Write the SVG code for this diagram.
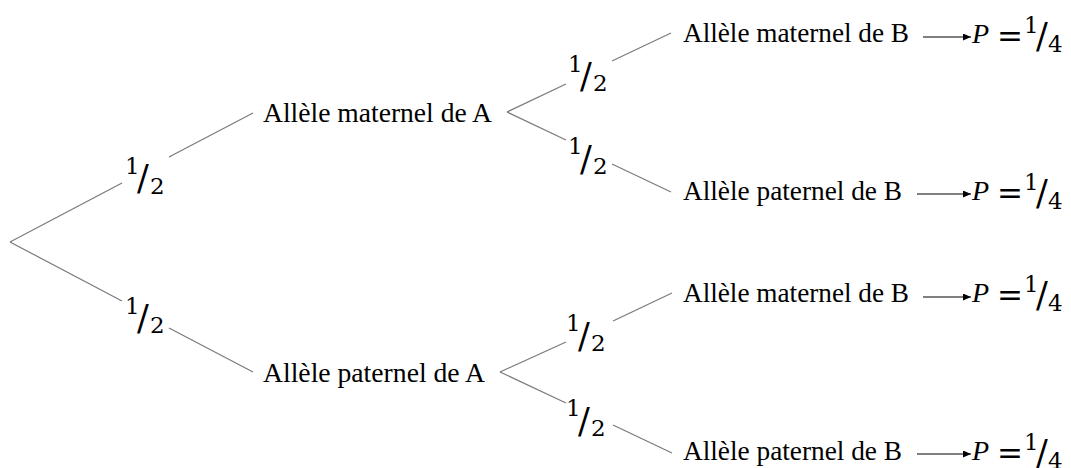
<svg xmlns="http://www.w3.org/2000/svg" width="1071" height="468" viewBox="0 0 1071 468">
<style>
  .lbl { font-family: "Liberation Serif", "Times New Roman", serif; font-size: 28px; fill: #000; }
  .num { font-family: "DejaVu Serif", "Liberation Serif", serif; font-size: 23px; fill: #000; }
  .sl { font-size: 35px; }
  .it { font-family: "Liberation Serif", "Times New Roman", serif; font-style: italic; font-size: 28px; }
  .eq { font-size: 31px; }
  .edge { stroke: #7a7a7a; stroke-width: 1.2; fill: none; }
  .arr { stroke: #000; stroke-width: 1; fill: none; marker-end: url(#ah); }
</style>
<defs>
  <marker id="ah" markerUnits="userSpaceOnUse" markerWidth="9" markerHeight="8" refX="8" refY="3.5" orient="auto">
    <path d="M0,0 L8,3.5 L0,7 z" fill="#000"/>
  </marker>
</defs>
<rect width="1071" height="468" fill="#fff"/>

<g id="connectors">
  <polyline class="edge" points="10,242 122,183"/>
  <polyline class="edge" points="169,157 253,113"/>
  <polyline class="edge" points="10,242 122,301"/>
  <polyline class="edge" points="169,328 253,372"/>

  <polyline class="edge" points="507,112 566,84"/>
  <polyline class="edge" points="612,61 671,33"/>
  <polyline class="edge" points="507,112 566,140"/>
  <polyline class="edge" points="612,164 671,192"/>

  <polyline class="edge" points="500,372 566,342"/>
  <polyline class="edge" points="613,321 672,293"/>
  <polyline class="edge" points="500,372 566,403"/>
  <polyline class="edge" points="613,425 672,453"/>

  <line class="arr" x1="923" y1="37" x2="971" y2="37"/>
  <line class="arr" x1="917" y1="194" x2="971" y2="194"/>
  <line class="arr" x1="923" y1="297" x2="971" y2="297"/>
  <line class="arr" x1="917" y1="454" x2="971" y2="454"/>

  <g id="edge-labels">
    <text class="num"><tspan x="125" y="174">1</tspan><tspan class="sl" x="137" y="190">/</tspan><tspan x="150" y="194">2</tspan></text>
    <text class="num"><tspan x="125" y="314">1</tspan><tspan class="sl" x="137" y="330">/</tspan><tspan x="150" y="333">2</tspan></text>
    <text class="num"><tspan x="568" y="72">1</tspan><tspan class="sl" x="580" y="88">/</tspan><tspan x="593" y="91">2</tspan></text>
    <text class="num"><tspan x="568" y="154">1</tspan><tspan class="sl" x="580" y="171">/</tspan><tspan x="593" y="174">2</tspan></text>
    <text class="num"><tspan x="566" y="331">1</tspan><tspan class="sl" x="578" y="348">/</tspan><tspan x="591" y="351">2</tspan></text>
    <text class="num"><tspan x="566" y="416">1</tspan><tspan class="sl" x="578" y="433">/</tspan><tspan x="591" y="436">2</tspan></text>
  </g>
</g>

<g id="node-a-mat"><text class="lbl" x="263" y="122" textLength="229" lengthAdjust="spacingAndGlyphs">Allèle maternel de A</text></g>
<g id="node-a-pat"><text class="lbl" x="263" y="382" textLength="222" lengthAdjust="spacingAndGlyphs">Allèle paternel de A</text></g>

<g id="node-b1"><text class="lbl" x="683" y="42" textLength="226" lengthAdjust="spacingAndGlyphs">Allèle maternel de B</text></g>
<g id="node-b2"><text class="lbl" x="683" y="200" textLength="219" lengthAdjust="spacingAndGlyphs">Allèle paternel de B</text></g>
<g id="node-b3"><text class="lbl" x="683" y="302" textLength="226" lengthAdjust="spacingAndGlyphs">Allèle maternel de B</text></g>
<g id="node-b4"><text class="lbl" x="683" y="460" textLength="219" lengthAdjust="spacingAndGlyphs">Allèle paternel de B</text></g>

<g id="result-1"><text class="num"><tspan class="it" x="972" y="43">P</tspan><tspan class="eq" x="997" y="47">=</tspan><tspan x="1024" y="33">1</tspan><tspan class="sl" x="1036" y="48">/</tspan><tspan x="1048" y="52">4</tspan></text></g>
<g id="result-2"><text class="num"><tspan class="it" x="972" y="200">P</tspan><tspan class="eq" x="997" y="204">=</tspan><tspan x="1024" y="190">1</tspan><tspan class="sl" x="1036" y="205">/</tspan><tspan x="1048" y="209">4</tspan></text></g>
<g id="result-3"><text class="num"><tspan class="it" x="972" y="302">P</tspan><tspan class="eq" x="997" y="306">=</tspan><tspan x="1024" y="292">1</tspan><tspan class="sl" x="1036" y="307">/</tspan><tspan x="1048" y="311">4</tspan></text></g>
<g id="result-4"><text class="num"><tspan class="it" x="972" y="460">P</tspan><tspan class="eq" x="997" y="464">=</tspan><tspan x="1024" y="450">1</tspan><tspan class="sl" x="1036" y="465">/</tspan><tspan x="1048" y="469">4</tspan></text></g>
</svg>
